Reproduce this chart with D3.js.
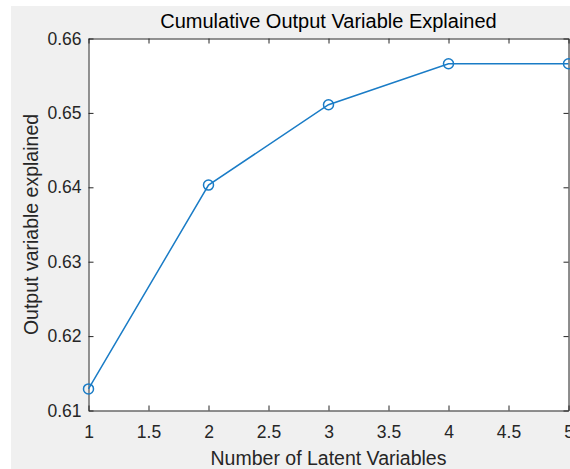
<!doctype html>
<html>
<head>
<style>
    body { margin: 0; background: #fff; }
    svg { display: block; }
</style>
</head>
<body>
    <div class="container"></div>

    <script src="https://d3js.org/d3.v7.min.js"></script>

    <script>
        // values
        const latentVars = [1, 2, 3, 4, 5]
        const explained = [0.6129, 0.6403, 0.6511, 0.6566, 0.6566]
        const xTicks = [1, 1.5, 2, 2.5, 3, 3.5, 4, 4.5, 5]
        const yTicks = [0.61, 0.62, 0.63, 0.64, 0.65, 0.66]

        const W = 570, H = 469
        const plotL = 88.5, plotR = 568.5, plotT = 38.5, plotB = 410.5
        const ink = '#262626'
        const blue = '#1a7cc6'
        const font = '"Liberation Sans", Arial, Helvetica, sans-serif'

        const svg = d3.select('.container').append('svg').attr('width', W).attr('height', H)

        // figure background
        svg.append('rect').attr('x', 11).attr('y', 6).attr('width', W - 11).attr('height', H - 6)
            .attr('fill', '#f0f0f0')

        const x = d3.scaleLinear().domain([1, 5]).range([plotL, plotR])
        const y = d3.scaleLinear().domain([0.61, 0.66]).range([plotB, plotT])

        svg.append('rect').attr('x', plotL).attr('y', plotT)
            .attr('width', plotR - plotL).attr('height', plotB - plotT)
            .attr('fill', '#fff')

        const styleAxis = (g, size) => {
            g.attr('font-family', font).attr('font-size', size)
            g.selectAll('path.domain').attr('stroke', ink)
            g.selectAll('line').attr('stroke', ink)
            g.selectAll('text').attr('fill', ink)
        }

        svg.append('g').attr('transform', `translate(0,${plotB})`)
            .call(d3.axisBottom(x).tickValues(xTicks).tickFormat(d3.format('~g'))
                .tickSizeInner(-5).tickSizeOuter(0).tickPadding(15.5))
            .call(g => styleAxis(g, 17.5))
        svg.append('g').attr('transform', `translate(0,${plotT})`)
            .call(d3.axisTop(x).tickValues(xTicks).tickFormat('')
                .tickSizeInner(-5).tickSizeOuter(0))
            .call(g => styleAxis(g, 17.5))
        svg.append('g').attr('transform', `translate(${plotL},0)`)
            .call(d3.axisLeft(y).tickValues(yTicks).tickFormat(d3.format('.2f'))
                .tickSizeInner(-5).tickSizeOuter(0).tickPadding(7))
            .call(g => styleAxis(g, 17.5))
        svg.append('g').attr('transform', `translate(${plotR},0)`)
            .call(d3.axisRight(y).tickValues(yTicks).tickFormat('')
                .tickSizeInner(-5).tickSizeOuter(0))
            .call(g => styleAxis(g, 17.5))

        const pts = latentVars.map((v, i) => [v, explained[i]])

        svg.append('path').datum(pts)
            .attr('fill', 'none').attr('stroke', blue).attr('stroke-width', 1.5)
            .attr('d', d3.line().x(d => x(d[0])).y(d => y(d[1])))

        svg.selectAll('circle.m').data(pts).enter().append('circle')
            .attr('class', 'm')
            .attr('cx', d => x(d[0])).attr('cy', d => y(d[1])).attr('r', 5)
            .attr('fill', 'none').attr('stroke', blue).attr('stroke-width', 1.5)

        // title and axis labels
        svg.append('text').attr('x', (plotL + plotR) / 2).attr('y', 28)
            .attr('text-anchor', 'middle').attr('font-family', font).attr('font-size', 20)
            .attr('fill', '#000').text('Cumulative Output Variable Explained')
        svg.append('text').attr('x', (plotL + plotR) / 2).attr('y', 465)
            .attr('text-anchor', 'middle').attr('font-family', font).attr('font-size', 19.5)
            .attr('fill', ink).text('Number of Latent Variables')
        svg.append('text').attr('transform', `translate(38,${(plotT + plotB) / 2}) rotate(-90)`)
            .attr('text-anchor', 'middle').attr('font-family', font).attr('font-size', 19.5)
            .attr('fill', ink).text('Output variable explained')
    </script>
</body>
</html>
